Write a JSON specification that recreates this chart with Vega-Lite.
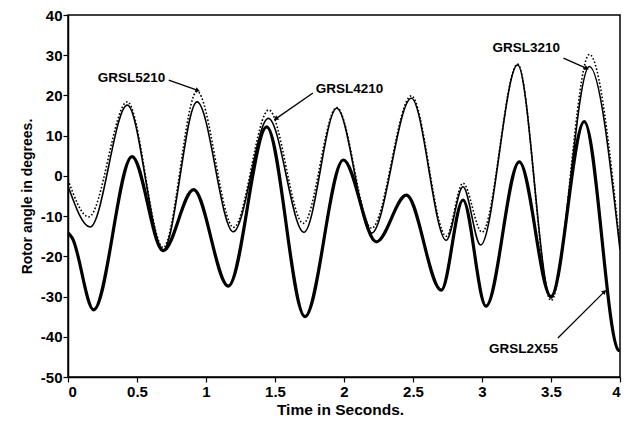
{
  "$schema": "https://vega.github.io/schema/vega-lite/v6.json",
  "width": 552,
  "height": 362,
  "autosize": "none",
  "padding": {"left": 68, "top": 15, "right": 10, "bottom": 53},
  "background": "white",
  "config": {
    "font": "Liberation Sans",
    "view": {"stroke": "black", "strokeWidth": 1.5},
    "axis": {
      "domainColor": "black",
      "domainWidth": 1.5,
      "tickColor": "black",
      "tickWidth": 1.2,
      "tickSize": 5,
      "grid": false,
      "labelFont": "Liberation Sans",
      "labelFontWeight": "bold",
      "labelFontSize": 15,
      "labelColor": "black",
      "titleFont": "Liberation Sans",
      "titleFontWeight": "bold",
      "titleColor": "black"
    }
  },
  "datasets": {
    "curves": [
      {"t": 0, "v": -2.5, "s": "GRSL3210"},
      {"t": 0.16, "v": -12.7, "s": "GRSL3210"},
      {"t": 0.43, "v": 17.6, "s": "GRSL3210"},
      {"t": 0.69, "v": -18.4, "s": "GRSL3210"},
      {"t": 0.935, "v": 18.4, "s": "GRSL3210"},
      {"t": 1.198, "v": -13.9, "s": "GRSL3210"},
      {"t": 1.452, "v": 14.3, "s": "GRSL3210"},
      {"t": 1.71, "v": -14.0, "s": "GRSL3210"},
      {"t": 1.947, "v": 16.8, "s": "GRSL3210"},
      {"t": 2.2, "v": -14.2, "s": "GRSL3210"},
      {"t": 2.488, "v": 19.3, "s": "GRSL3210"},
      {"t": 2.741, "v": -16.0, "s": "GRSL3210"},
      {"t": 2.862, "v": -2.7, "s": "GRSL3210"},
      {"t": 2.99, "v": -17.2, "s": "GRSL3210"},
      {"t": 3.258, "v": 27.6, "s": "GRSL3210"},
      {"t": 3.5, "v": -30.4, "s": "GRSL3210"},
      {"t": 3.778, "v": 27.2, "s": "GRSL3210"},
      {"t": 4.0, "v": -18.4, "s": "GRSL3210"},

      {"t": 0, "v": -1.0, "s": "GRSL5210"},
      {"t": 0.15, "v": -10.2, "s": "GRSL5210"},
      {"t": 0.43, "v": 18.4, "s": "GRSL5210"},
      {"t": 0.69, "v": -17.8, "s": "GRSL5210"},
      {"t": 0.935, "v": 21.0, "s": "GRSL5210"},
      {"t": 1.2, "v": -12.8, "s": "GRSL5210"},
      {"t": 1.455, "v": 16.4, "s": "GRSL5210"},
      {"t": 1.705, "v": -11.8, "s": "GRSL5210"},
      {"t": 1.947, "v": 17.0, "s": "GRSL5210"},
      {"t": 2.2, "v": -13.0, "s": "GRSL5210"},
      {"t": 2.488, "v": 19.9, "s": "GRSL5210"},
      {"t": 2.741, "v": -15.0, "s": "GRSL5210"},
      {"t": 2.862, "v": -1.8, "s": "GRSL5210"},
      {"t": 3.0, "v": -14.0, "s": "GRSL5210"},
      {"t": 3.258, "v": 27.8, "s": "GRSL5210"},
      {"t": 3.5, "v": -31.0, "s": "GRSL5210"},
      {"t": 3.778, "v": 30.2, "s": "GRSL5210"},
      {"t": 4.0, "v": -17.5, "s": "GRSL5210"},

      {"t": 0, "v": -14.2, "s": "GRSL2X55"},
      {"t": 0.03, "v": -15.4, "s": "GRSL2X55"},
      {"t": 0.186, "v": -33.3, "s": "GRSL2X55"},
      {"t": 0.464, "v": 4.8, "s": "GRSL2X55"},
      {"t": 0.69, "v": -18.6, "s": "GRSL2X55"},
      {"t": 0.91, "v": -3.4, "s": "GRSL2X55"},
      {"t": 1.162, "v": -27.4, "s": "GRSL2X55"},
      {"t": 1.44, "v": 12.2, "s": "GRSL2X55"},
      {"t": 1.717, "v": -35.0, "s": "GRSL2X55"},
      {"t": 1.995, "v": 3.95, "s": "GRSL2X55"},
      {"t": 2.234, "v": -16.4, "s": "GRSL2X55"},
      {"t": 2.452, "v": -4.8, "s": "GRSL2X55"},
      {"t": 2.705, "v": -28.4, "s": "GRSL2X55"},
      {"t": 2.862, "v": -6.0, "s": "GRSL2X55"},
      {"t": 3.029, "v": -32.4, "s": "GRSL2X55"},
      {"t": 3.27, "v": 3.5, "s": "GRSL2X55"},
      {"t": 3.5, "v": -30.0, "s": "GRSL2X55"},
      {"t": 3.741, "v": 13.5, "s": "GRSL2X55"},
      {"t": 3.99, "v": -43.4, "s": "GRSL2X55"},
      {"t": 4.0, "v": -43.5, "s": "GRSL2X55"}
    ],
    "notes": [
      {"lab": "GRSL5210", "tx": 0.46, "ty": 24.3, "x1": 0.73, "y1": 23.8, "x2": 0.935, "y2": 21.3},
      {"lab": "GRSL4210", "tx": 2.04, "ty": 21.6, "x1": 1.775, "y1": 20.6, "x2": 1.51, "y2": 14.3},
      {"lab": "GRSL3210", "tx": 3.32, "ty": 31.8, "x1": 3.59, "y1": 29.3, "x2": 3.754, "y2": 26.8},
      {"lab": "GRSL2X55", "tx": 3.3, "ty": -43.0, "x1": 3.55, "y1": -40.3, "x2": 3.884, "y2": -28.9}
    ]
  },
  "encoding": {
    "x": {
      "type": "quantitative",
      "title": "Time in Seconds.",
      "scale": {"domain": [0, 4], "nice": false, "zero": false},
      "axis": {"values": [0, 0.5, 1, 1.5, 2, 2.5, 3, 3.5, 4], "format": "~g", "labelPadding": 2, "titlePadding": 3, "titleFontSize": 15.5, "titleX": 272}
    },
    "y": {
      "type": "quantitative",
      "title": "Rotor angle in degrees.",
      "scale": {"domain": [-50, 40], "nice": false, "zero": false},
      "axis": {"values": [-50, -40, -30, -20, -10, 0, 10, 20, 30, 40], "labelExpr": "'' + datum.value", "labelPadding": 1, "titlePadding": 6, "titleFontSize": 14}
    }
  },
  "layer": [
    {
      "data": {"name": "curves"},
      "transform": [{"filter": "datum.s === 'GRSL3210'"}],
      "mark": {"type": "line", "interpolate": "monotone", "color": "black", "strokeWidth": 1.6, "clip": true},
      "encoding": {"x": {"field": "t"}, "y": {"field": "v"}}
    },
    {
      "data": {"name": "curves"},
      "transform": [{"filter": "datum.s === 'GRSL5210'"}],
      "mark": {"type": "line", "interpolate": "monotone", "color": "black", "strokeWidth": 1.6, "strokeDash": [1.6, 2], "clip": true},
      "encoding": {"x": {"field": "t"}, "y": {"field": "v"}}
    },
    {
      "data": {"name": "curves"},
      "transform": [{"filter": "datum.s === 'GRSL2X55'"}],
      "mark": {"type": "line", "interpolate": "monotone", "color": "black", "strokeWidth": 3.2, "clip": true},
      "encoding": {"x": {"field": "t"}, "y": {"field": "v"}}
    },
    {
      "data": {"name": "notes"},
      "mark": {"type": "rule", "color": "black", "strokeWidth": 1.3},
      "encoding": {
        "x": {"field": "x1"},
        "y": {"field": "y1"},
        "x2": {"field": "x2"},
        "y2": {"field": "y2"}
      }
    },
    {
      "data": {"name": "notes"},
      "transform": [{"filter": "datum.lab === 'GRSL5210'"}],
      "mark": {"type": "point", "shape": "triangle", "filled": true, "color": "black", "size": 28, "angle": 109, "opacity": 1},
      "encoding": {"x": {"field": "x2"}, "y": {"field": "y2"}}
    },
    {
      "data": {"name": "notes"},
      "transform": [{"filter": "datum.lab === 'GRSL4210'"}],
      "mark": {"type": "point", "shape": "triangle", "filled": true, "color": "black", "size": 28, "angle": 235, "opacity": 1},
      "encoding": {"x": {"field": "x2"}, "y": {"field": "y2"}}
    },
    {
      "data": {"name": "notes"},
      "transform": [{"filter": "datum.lab === 'GRSL3210'"}],
      "mark": {"type": "point", "shape": "triangle", "filled": true, "color": "black", "size": 28, "angle": 114, "opacity": 1},
      "encoding": {"x": {"field": "x2"}, "y": {"field": "y2"}}
    },
    {
      "data": {"name": "notes"},
      "transform": [{"filter": "datum.lab === 'GRSL2X55'"}],
      "mark": {"type": "point", "shape": "triangle", "filled": true, "color": "black", "size": 28, "angle": 45, "opacity": 1},
      "encoding": {"x": {"field": "x2"}, "y": {"field": "y2"}}
    },
    {
      "data": {"name": "notes"},
      "mark": {"type": "text", "font": "Liberation Sans", "fontWeight": "bold", "fontSize": 13.5, "color": "black", "align": "center", "baseline": "middle"},
      "encoding": {
        "x": {"field": "tx"},
        "y": {"field": "ty"},
        "text": {"field": "lab"}
      }
    }
  ]
}
